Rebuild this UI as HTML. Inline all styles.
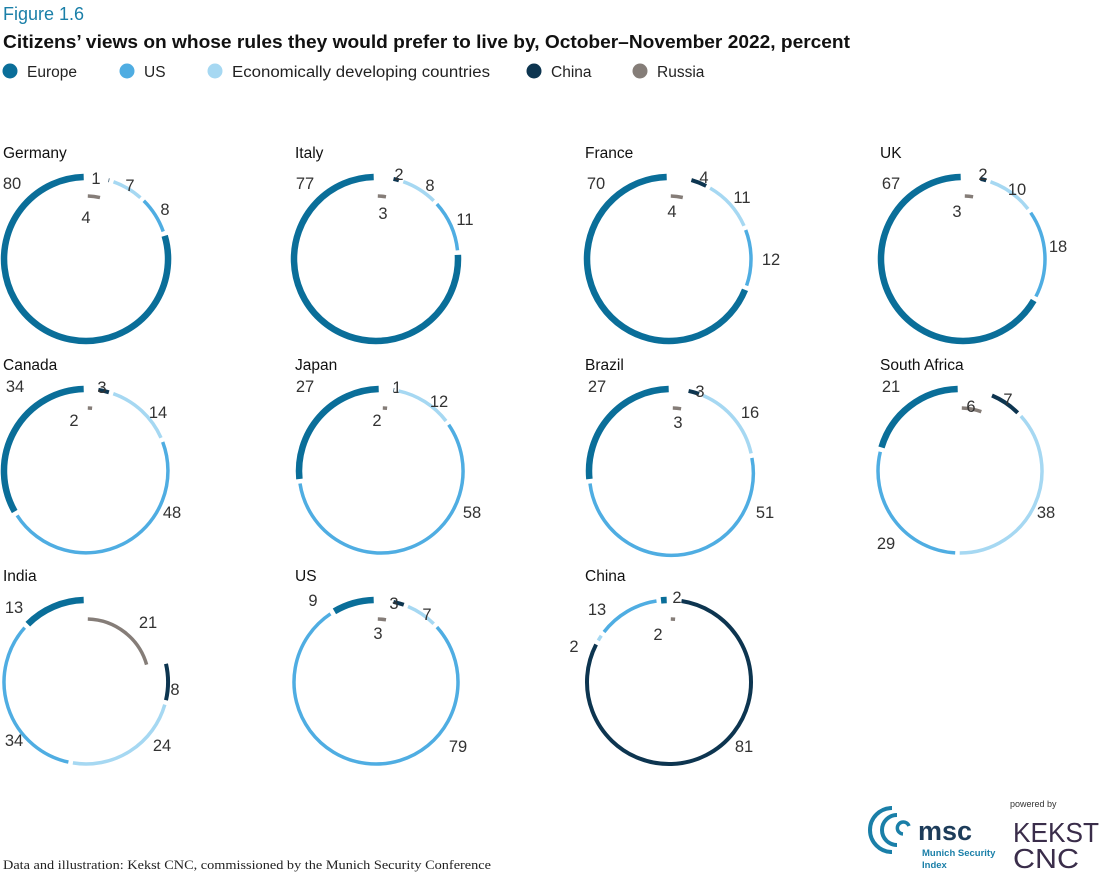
<!DOCTYPE html>
<html><head><meta charset="utf-8"><style>
body{margin:0;background:#fff;width:1102px;height:875px;overflow:hidden;font-family:"Liberation Sans",sans-serif;color:#222}
svg{position:absolute;left:0;top:0}
</style></head><body>
<svg id="s" width="1102" height="875" xmlns="http://www.w3.org/2000/svg" font-family="Liberation Sans, sans-serif">
<text x="3" y="20" font-size="18" fill="#1a7fa8">Figure 1.6</text>
<text x="3" y="48" font-size="18" font-weight="bold" fill="#111" textLength="847" lengthAdjust="spacingAndGlyphs">Citizens’ views on whose rules they would prefer to live by, October–November 2022, percent</text>
<g font-size="15.5" fill="#222">
<circle cx="10" cy="71" r="7.5" fill="#0a6e99"/><text x="27" y="77">Europe</text>
<circle cx="127" cy="71" r="7.5" fill="#4fade2"/><text x="144" y="77">US</text>
<circle cx="215" cy="71" r="7.5" fill="#a6d8f2"/><text x="232" y="77" textLength="258" lengthAdjust="spacingAndGlyphs">Economically developing countries</text>
<circle cx="534" cy="71" r="7.5" fill="#0d3550"/><text x="551" y="77">China</text>
<circle cx="640" cy="71" r="7.5" fill="#857d78"/><text x="657" y="77">Russia</text>
</g>
<g id="charts"></g>
<text x="3" y="869" font-size="13" font-family="Liberation Serif, serif" fill="#222" textLength="488" lengthAdjust="spacingAndGlyphs">Data and illustration: Kekst CNC, commissioned by the Munich Security Conference</text>
<g>
<path d="M892 808 A22 22 0 1 0 892 852" fill="none" stroke="#1a7fa8" stroke-width="4"/>
<path d="M897 815 A15 15 0 1 0 897 845" fill="none" stroke="#1a7fa8" stroke-width="4"/>
<path d="M909 826 A6 6 0 1 0 903 834" fill="none" stroke="#1a7fa8" stroke-width="3.5"/>
<text x="918" y="840" font-size="27" font-weight="bold" fill="#1d3c5a">msc</text>
<text x="922" y="856" font-size="9.5" font-weight="bold" fill="#1a7fa8">Munich Security</text>
<text x="922" y="868" font-size="9.5" font-weight="bold" fill="#1a7fa8">Index</text>
<text x="1010" y="807" font-size="9" fill="#333">powered by</text>
<text x="1013" y="842" font-size="28" fill="#3a2d4a" textLength="86" lengthAdjust="spacingAndGlyphs">KEKST</text>
<text x="1013" y="868" font-size="28" fill="#3a2d4a" textLength="66" lengthAdjust="spacingAndGlyphs">CNC</text>
</g>
</svg>
<script>
var C=["#857d78","#0d3550","#a6d8f2","#4fade2","#0a6e99"];
var W=[3.5,4,3.5,3.5,6.5];
var D=[
["Germany",3,86,259,[4,1,7,8,80],[[86,217],[96,178],[130,185],[165,209],[12,183]]],
["Italy",295,376,259,[3,2,8,11,77],[[383,213],[399,174],[430,185],[465,219],[305,183]]],
["France",585,669,259,[4,4,11,12,70],[[672,211],[704,177],[742,197],[771,259],[596,183]]],
["UK",880,963,259,[3,2,10,18,67],[[957,211],[983,174],[1017,189],[1058,246],[891,183]]],
["Canada",3,86,471,[2,3,14,48,34],[[74,420],[102,387],[158,412],[172,512],[15,386]]],
["Japan",295,381,471,[2,1,12,58,27],[[377,420],[397,387],[439,401],[472,512],[305,386]]],
["Brazil",585,671,471,[3,3,16,51,27],[[678,422],[700,391],[750,412],[765,512],[597,386]]],
["South Africa",880,960,471,[6,7,38,29,21],[[971,406],[1008,399],[1046,512],[886,543],[891,386]]],
["India",3,86,682,[21,8,24,34,13],[[148,622],[175,689],[162,745],[14,740],[14,607]]],
["US",295,376,682,[3,3,7,79,9],[[378,633],[394,603],[427,614],[458,746],[313,600]]],
["China",585,669,682,[2,81,2,13,2],[[658,634],[744,746],[574,646],[597,609],[677,597]]]
];
var g=document.getElementById("charts"),h="";
function pt(cx,cy,r,a){a=a*Math.PI/180;return [cx+r*Math.sin(a),cy-r*Math.cos(a)];}
D.forEach(function(d){
 var cx=d[2],cy=d[3],v=d[4],tot=v.reduce(function(a,b){return a+b},0),acc=0;
 h+='<text x="'+d[1]+'" y="'+(cy-101)+'" font-size="15.5" fill="#111">'+d[0]+'</text>';
 v.forEach(function(x,i){
  var a0=acc/tot*360+1.6,a1=(acc+x)/tot*360-1.6;acc+=x;
  if(a1<=a0)a1=a0+0.6;
  var r=i==0?63:82;
  var p0=pt(cx,cy,r,a0),p1=pt(cx,cy,r,a1),lg=(a1-a0)>180?1:0;
  h+='<path d="M'+p0[0].toFixed(1)+' '+p0[1].toFixed(1)+' A'+r+' '+r+' 0 '+lg+' 1 '+p1[0].toFixed(1)+' '+p1[1].toFixed(1)+'" fill="none" stroke="'+C[i]+'" stroke-width="'+W[i]+'"/>';
  var L=d[5][i];
  h+='<text x="'+L[0]+'" y="'+(L[1]+6)+'" font-size="16.5" fill="#333" text-anchor="middle">'+x+'</text>';
 });
});
g.innerHTML=h;
</script>
</body></html>
